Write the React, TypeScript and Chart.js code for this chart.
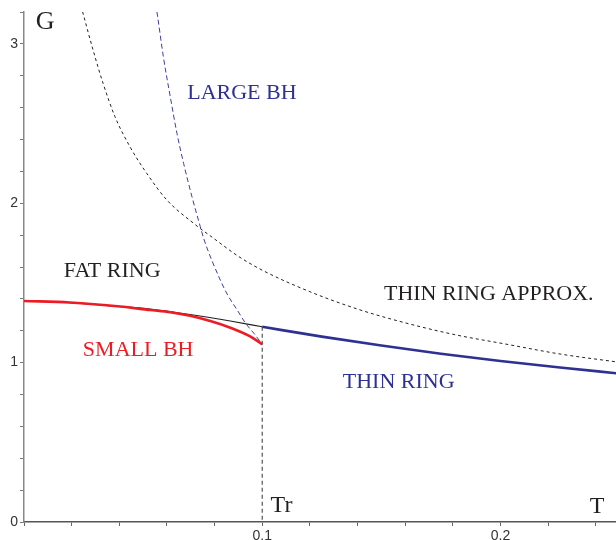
import React, { useEffect, useRef } from 'react';
import { Chart, registerables } from 'chart.js';

Chart.register(...registerables);

// ---- data (T, G) ----
const approxT = [0.0246, 0.029, 0.0332, 0.0382, 0.0445, 0.0515, 0.06, 0.0712, 0.0796, 0.09, 0.1, 0.12, 0.14, 0.1574, 0.18, 0.2027, 0.225, 0.249];
const approxG = [3.201, 2.961, 2.752, 2.543, 2.354, 2.188, 2.02, 1.874, 1.78, 1.667, 1.58, 1.445, 1.336, 1.26, 1.178, 1.115, 1.054, 1.004];

const largeBhT = [0.0558, 0.056, 0.0585, 0.0614, 0.0642, 0.067, 0.0705, 0.074, 0.0754, 0.0824, 0.0855, 0.0895, 0.093, 0.0965, 0.1];
const largeBhG = [3.2, 3.181, 2.919, 2.668, 2.439, 2.25, 2.041, 1.853, 1.78, 1.518, 1.424, 1.33, 1.247, 1.184, 1.115];

const fatRingT = [0, 0.0192, 0.0403, 0.0529, 0.0697, 0.0866, 0.1];
const fatRingG = [1.387, 1.377, 1.352, 1.336, 1.302, 1.261, 1.225];

const smallBhT = [0, 0.0192, 0.0403, 0.0529, 0.0614, 0.0697, 0.0782, 0.0866, 0.0951, 0.1];
const smallBhG = [1.387, 1.377, 1.352, 1.33, 1.316, 1.294, 1.261, 1.219, 1.163, 1.115];

const thinRingT = [0.1, 0.125, 0.15, 0.175, 0.2, 0.225, 0.249];
const thinRingG = [1.225, 1.163, 1.107, 1.056, 1.01, 0.969, 0.933];

const trLineT = [0.1, 0.1];
const trLineG = [1.225, 0];

const xTickValues = [0, 0.02, 0.04, 0.06, 0.08, 0.1, 0.12, 0.14, 0.16, 0.18, 0.2, 0.22, 0.24];
const xTickLabels: Record<string, string> = { '0.1': '0.1', '0.2': '0.2' };
const yTickValues = [0, 0.2, 0.4, 0.6, 0.8, 1, 1.2, 1.4, 1.6, 1.8, 2, 2.2, 2.4, 2.6, 2.8, 3, 3.2];
const yTickLabels: Record<string, string> = { '0': '0', '1': '1', '2': '2', '3': '3' };

// text annotations
const labelTexts = ['G', 'LARGE BH', 'FAT RING', 'SMALL BH', 'THIN RING APPROX.', 'THIN RING', 'Tr', 'T'];
const labelT = [0.0049, 0.0685, 0.0167, 0.0247, 0.1511, 0.1338, 0.1035, 0.2375];
const labelG = [3.096, 2.654, 1.537, 1.041, 1.393, 0.841, 0.063, 0.056];
const labelColors = ['#231f20', '#2e3192', '#231f20', '#ed1c24', '#231f20', '#2e3192', '#231f20', '#231f20'];
const labelSizes = [26, 22, 22, 22, 22, 22, 24, 24];

const pts = (t: number[], g: number[]) => t.map((v, i) => ({ x: v, y: g[i] }));

const keyOf = (v: number) => String(Math.round(v * 1000) / 1000);

const textPlugin = {
  id: 'textLabels',
  afterDatasetsDraw(chart: any) {
    const { ctx } = chart;
    const xs = chart.scales.x;
    const ys = chart.scales.y;
    ctx.save();
    ctx.textAlign = 'left';
    ctx.textBaseline = 'alphabetic';
    labelTexts.forEach((txt, i) => {
      ctx.font = `${labelSizes[i]}px "Liberation Serif", "Times New Roman", serif`;
      ctx.fillStyle = labelColors[i];
      ctx.fillText(txt, xs.getPixelForValue(labelT[i]), ys.getPixelForValue(labelG[i]));
    });
    ctx.restore();
  },
};

export default function App() {
  const ref = useRef<HTMLCanvasElement | null>(null);

  useEffect(() => {
    document.body.style.margin = '0';
    if (!ref.current) return;
    const chart = new Chart(ref.current, {
      type: 'line',
      data: {
        datasets: [
          {
            data: pts(thinRingT, thinRingG),
            borderColor: '#2e3192',
            borderWidth: 2.6,
            pointRadius: 0,
            cubicInterpolationMode: 'monotone',
            order: 0,
          },
          {
            data: pts(smallBhT, smallBhG),
            borderColor: '#ed1c24',
            borderWidth: 2.6,
            pointRadius: 0,
            cubicInterpolationMode: 'monotone',
            order: 1,
          },
          {
            data: pts(fatRingT, fatRingG),
            borderColor: '#231f20',
            borderWidth: 1.2,
            pointRadius: 0,
            cubicInterpolationMode: 'monotone',
            order: 2,
          },
          {
            data: pts(largeBhT, largeBhG),
            borderColor: '#3d3da0',
            borderWidth: 1,
            borderDash: [5, 3],
            pointRadius: 0,
            cubicInterpolationMode: 'monotone',
            order: 3,
          },
          {
            data: pts(approxT, approxG),
            borderColor: '#231f20',
            borderWidth: 1,
            borderDash: [3, 3],
            pointRadius: 0,
            cubicInterpolationMode: 'monotone',
            order: 4,
          },
          {
            data: pts(trLineT, trLineG),
            borderColor: '#555555',
            borderWidth: 1.2,
            borderDash: [4, 3],
            pointRadius: 0,
            order: 5,
          },
        ],
      } as any,
      options: {
        animation: false,
        responsive: false,
        devicePixelRatio: 1,
        layout: { padding: { top: 12, right: 0, left: 0, bottom: 0 } },
        plugins: { legend: { display: false }, tooltip: { enabled: false } },
        scales: {
          x: {
            type: 'linear',
            min: 0,
            max: 0.2485,
            afterBuildTicks: (s: any) => {
              s.ticks = xTickValues.map((v) => ({ value: v }));
            },
            afterFit: (s: any) => {
              s.height = 18;
              s.paddingLeft = 0;
              s.paddingRight = 0;
            },
            ticks: {
              autoSkip: false,
              maxRotation: 0,
              padding: 2,
              color: '#333',
              font: { family: '"Liberation Sans", Arial, sans-serif', size: 14 },
              callback: (v: any) => xTickLabels[keyOf(Number(v))] ?? '',
            },
            grid: { display: true, drawOnChartArea: false, drawTicks: true, tickLength: 4, color: '#666', lineWidth: 1 },
            border: { display: true, color: '#555', width: 1.5 },
          },
          y: {
            type: 'linear',
            min: 0,
            max: 3.2,
            afterBuildTicks: (s: any) => {
              s.ticks = yTickValues.map((v) => ({ value: v }));
            },
            afterFit: (s: any) => {
              s.width = 24;
            },
            ticks: {
              autoSkip: false,
              padding: 2,
              color: '#333',
              font: { family: '"Liberation Sans", Arial, sans-serif', size: 14 },
              callback: (v: any) => yTickLabels[keyOf(Number(v))] ?? '',
            },
            grid: { display: true, drawOnChartArea: false, drawTicks: true, tickLength: 4, color: '#777', lineWidth: 1 },
            border: { display: true, color: '#888', width: 1.5 },
          },
        },
      } as any,
      plugins: [textPlugin],
    });
    return () => chart.destroy();
  }, []);

  return (
    <div style={{ position: 'absolute', left: 0, top: 0, width: 616, height: 540, background: '#fff' }}>
      <canvas ref={ref} width={616} height={540} style={{ width: 616, height: 540, display: 'block' }} />
    </div>
  );
}
